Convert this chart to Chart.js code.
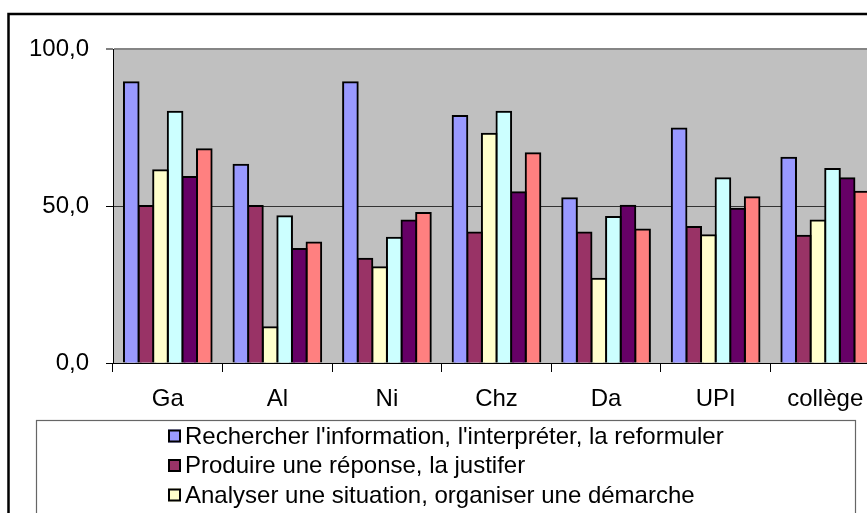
<!DOCTYPE html>
<html>
<head>
<meta charset="utf-8">
<script src="https://cdn.jsdelivr.net/npm/chart.js@4/dist/chart.umd.min.js"></script>
<style>
  html, body { margin: 0; padding: 0; overflow: hidden; background: #ffffff; }
  #wrap { position: absolute; left: 0; top: 0; width: 900px; height: 620px; }
</style>
</head>
<body>
<div id="wrap"><canvas id="chart" width="900" height="620"></canvas></div>
<script>
// Categories (classes) and tick values
const categories = ['Ga', 'Al', 'Ni', 'Chz', 'Da', 'UPI', 'collège'];
const yTicks = [0, 50, 100];

// Competency names
const seriesNames = [
  "Rechercher l'information, l'interpréter, la reformuler",
  "Produire une réponse, la justifer",
  "Analyser une situation, organiser une démarche",
  "Réaliser, appliquer des consignes",
  "Raisonner, argumenter, démontrer",
  "Communiquer à l'aide d'un langage adapté"
];

// Success rates (%) per class
const rechercher  = [89.4, 63.1, 89.4, 78.7, 52.5, 74.7, 65.4];
const produire    = [50.0, 50.0, 33.2, 41.6, 41.6, 43.3, 40.5];
const analyser    = [61.4, 11.4, 30.5, 73.0, 26.8, 40.7, 45.4];
const realiser    = [80.0, 46.7, 39.9, 80.0, 46.5, 58.8, 61.8];
const raisonner   = [59.2, 36.3, 45.4, 54.4, 50.1, 49.1, 58.8];
const communiquer = [68.1, 38.4, 47.8, 66.8, 42.5, 52.8, 54.5];

const seriesValues = [rechercher, produire, analyser, realiser, raisonner, communiquer];
const seriesColors = ['#9999FF', '#993366', '#FFFFCC', '#CCFFFF', '#660066', '#FF8080'];

const FONT = '"Liberation Sans", Arial, sans-serif';

// Layout of the drawing (pixels)
const PLOT = { left: 113, top: 49, bottom: 363 };
const X_AXIS_H = 50;
const CANVAS_W = 900, CANVAS_H = 620;

// Grey plot background, white page and the outer frame
const framePlugin = {
  id: 'frame',
  beforeDraw(chart) {
    const { ctx, chartArea: a } = chart;
    ctx.save();
    ctx.fillStyle = '#ffffff';
    ctx.fillRect(0, 0, chart.width, chart.height);
    ctx.fillStyle = '#C0C0C0';
    ctx.fillRect(a.left, a.top, a.right - a.left, a.bottom - a.top);
    ctx.restore();
  },
  afterDraw(chart) {
    const { ctx } = chart;
    ctx.save();
    ctx.strokeStyle = '#000000';
    ctx.lineWidth = 2.5;
    ctx.strokeRect(8.5, 14, chart.width + 20, chart.height + 20);
    ctx.restore();
  }
};

// Boxed legend: one entry per line, block centred in the box
const boxLegendPlugin = {
  id: 'boxLegend',
  afterDraw(chart) {
    const { ctx } = chart;
    const box = { x: 36, y: 420, w: 819, h: 200 };
    const rowH = 29.5, firstRow = 436, sq = 13, gap = 4;
    ctx.save();
    ctx.font = '24px ' + FONT;
    let maxW = 0;
    chart.data.datasets.forEach(ds => { maxW = Math.max(maxW, ctx.measureText(ds.label).width); });
    const blockW = sq + gap + maxW;
    const x0 = Math.round(box.x + (box.w - blockW) / 2);

    ctx.fillStyle = '#ffffff';
    ctx.fillRect(box.x, box.y, box.w, box.h);
    ctx.strokeStyle = '#666666';
    ctx.lineWidth = 1.2;
    ctx.strokeRect(box.x + 0.5, box.y + 0.5, box.w, box.h);

    chart.data.datasets.forEach((ds, i) => {
      const cy = firstRow + i * rowH;
      ctx.fillStyle = ds.backgroundColor;
      ctx.fillRect(x0, cy - sq / 2, sq, sq);
      ctx.strokeStyle = '#000000';
      ctx.lineWidth = 2;
      ctx.strokeRect(x0 + 1, cy - sq / 2 + 1, sq - 2, sq - 2);
      ctx.fillStyle = '#000000';
      ctx.textBaseline = 'middle';
      ctx.textAlign = 'left';
      ctx.fillText(ds.label, x0 + sq + gap, cy + 1);
    });
    ctx.restore();
  }
};

const datasets = seriesValues.map((vals, i) => ({
  label: seriesNames[i],
  data: vals,
  backgroundColor: seriesColors[i],
  borderColor: '#000000',
  borderWidth: 2,
  borderSkipped: 'start',
  inflateAmount: 1,
  categoryPercentage: 0.8,
  barPercentage: 1.0
}));

new Chart(document.getElementById('chart'), {
  type: 'bar',
  data: { labels: categories, datasets },
  plugins: [framePlugin, boxLegendPlugin],
  options: {
    responsive: false,
    animation: false,
    devicePixelRatio: 1,
    layout: {
      padding: { left: 0, top: PLOT.top, right: 20, bottom: CANVAS_H - PLOT.bottom - X_AXIS_H }
    },
    plugins: {
      legend: { display: false },
      tooltip: { enabled: false }
    },
    scales: {
      x: {
        offset: true,
        grid: {
          offset: true,
          drawOnChartArea: false,
          drawTicks: true,
          tickLength: 9,
          tickColor: '#000000',
          tickWidth: 1
        },
        border: { color: '#000000', width: 1 },
        ticks: {
          color: '#000000',
          font: { family: FONT, size: 24 },
          padding: 13,
          maxRotation: 0,
          autoSkip: false
        },
        afterFit(scale) { scale.height = X_AXIS_H; }
      },
      y: {
        min: 0,
        max: 100,
        afterBuildTicks(scale) { scale.ticks = yTicks.map(v => ({ value: v })); },
        grid: {
          color: c => (c.tick && c.tick.value === 100) ? '#858585' : '#333333',
          lineWidth: c => (c.tick && c.tick.value === 100) ? 2 : 1,
          drawTicks: true,
          tickLength: 7,
          tickColor: '#000000',
          tickWidth: 1
        },
        border: { color: '#000000', width: 1 },
        ticks: {
          color: '#000000',
          font: { family: FONT, size: 24 },
          padding: 17,
          callback: v => Number(v).toFixed(1).replace('.', ',')
        },
        afterFit(scale) { scale.width = PLOT.left; }
      }
    }
  }
});
</script>
</body>
</html>
